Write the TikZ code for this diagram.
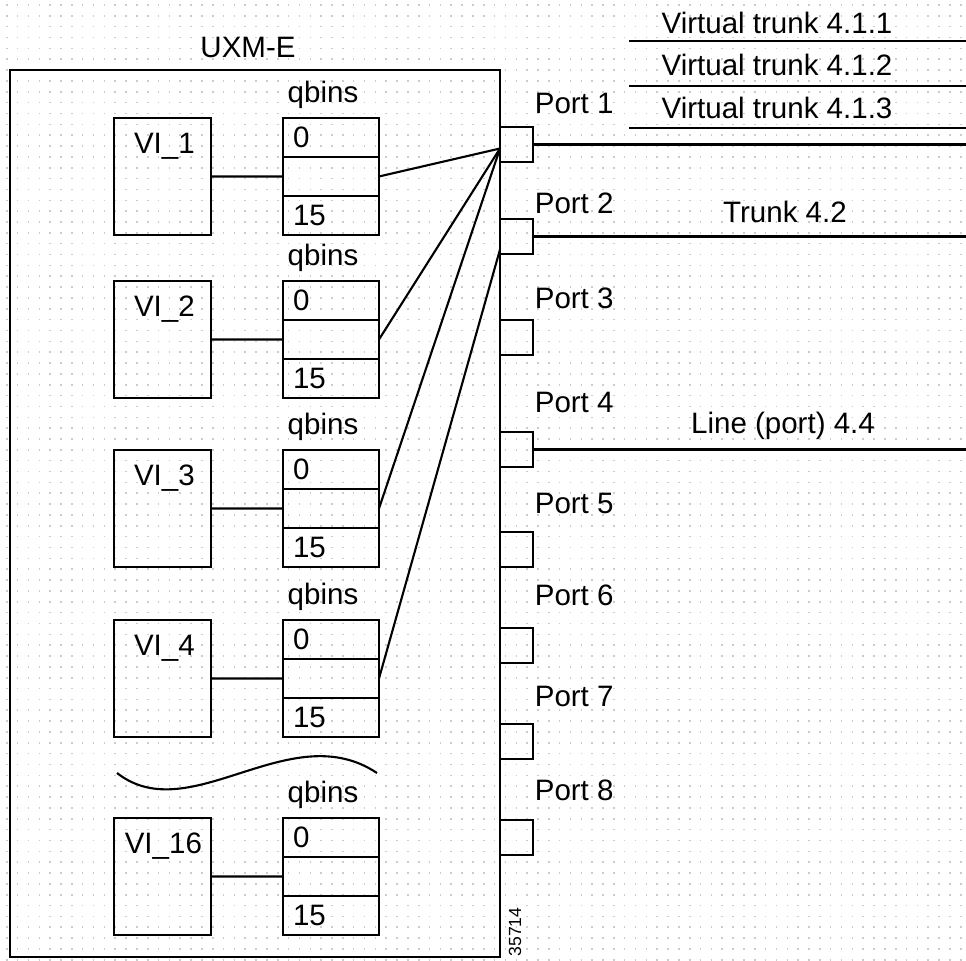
\documentclass[tikz,border=0pt]{standalone}
\usepackage{fontspec}
\setmainfont{Liberation Sans}
\usetikzlibrary{positioning}
\tikzset{
  uxm/.style={x=0.02cm, y=-0.02cm, line width=1.2pt, font=\fontsize{16.8}{19}\selectfont},
  griddots/.style={gray!40, line width=0.9pt, dash pattern=on 0.9pt off 5.27pt},
  vibox/.style={draw, outer sep=0pt, minimum width=1.94cm, minimum height=2.34cm},
  binrow/.style={draw, outer sep=0pt, minimum height=0.78cm, text width=1.52cm, inner xsep=0.2cm, inner ysep=0pt, align=left},
  portbox/.style={draw, outer sep=0pt, minimum width=0.66cm, minimum height=0.7cm},
  tag/.style={inner sep=1pt}
}

\begin{document}
\begin{tikzpicture}[uxm]
\useasboundingbox (0,0) rectangle (966,960);
% drafting grid
\foreach \k in {0,...,88} \draw[griddots] (6,{5+10.85*\k}) -- (966,{5+10.85*\k});

\node[draw, outer sep=0pt, anchor=north west, minimum width=9.8cm, minimum height=17.74cm] (uxm) at (10,70) {};
\node[tag, anchor=base] (uxml) at (248,57) {UXM-E};

% VIs and their qbins
\foreach \n/\t/\dx in {1/118/0.345,2/281/0.345,3/450/0.345,4/620/0.345,16/818/0.16}{
  \node[vibox, anchor=north west] (vi\n) at (114,\t) {};
  \node[tag, anchor=north west] (vil\n) at ([xshift=\dx cm,yshift=-0.245cm]vi\n.north west) {VI\_\n};
  \node[binrow, anchor=north west] (qa\n) at (283,\t) {0};
  \node[binrow, below=0pt of qa\n] (qb\n) {};
  \node[binrow, below=0pt of qb\n] (qc\n) {15};
  \node[tag, above=4pt of qa\n, xshift=-0.16cm] (bins\n) {qbins};
  \draw (vi\n) -- (qb\n);
}
\draw (117,773) .. controls (190,830) and (290,715) .. (377,773);

% ports
\foreach \k/\pt/\lt in {1/127/113,2/219/213,3/320/308,4/432/412,5/532/513,6/628/605,7/724/706,8/820/800}{
  \node[portbox, anchor=north west] (p\k) at (500,\pt) {};
  \node[tag, anchor=base west] (pl\k) at (532,\lt) {Port \k};
}
\node[font=\fontsize{10}{12}\selectfont, rotate=90, inner sep=0pt] (figno) at (515,932) {35714};

\draw (qb1.east) -- ([yshift=-0.08cm]p1.west);
\draw (qb2.east) -- ([yshift=-0.08cm]p1.west);
\draw (qb3.east) -- ([yshift=-0.08cm]p1.west);
\draw (qb4.east) -- ([yshift=-0.26cm]p2.west);

% trunks and lines
\coordinate (rim) at (966,0);
\draw (p1) -- (p1 -| rim);
\draw (p2) -- (p2 -| rim);
\draw (p4) -- (p4 -| rim);
\foreach \v/\y/\b in {1/41/33,2/86/75,3/128/118}{
  \coordinate (vt\v) at (629,\y);
  \draw (vt\v) -- (vt\v -| rim);
  \node[tag, anchor=base] (vtl\v) at (777,\b) {Virtual trunk 4.1.\v};
}
\node[tag, anchor=base] (tk2) at (785,222) {Trunk 4.2};
\node[tag, anchor=base] (ln4) at (783,433) {Line (port) 4.4};
\end{tikzpicture}
\end{document}
